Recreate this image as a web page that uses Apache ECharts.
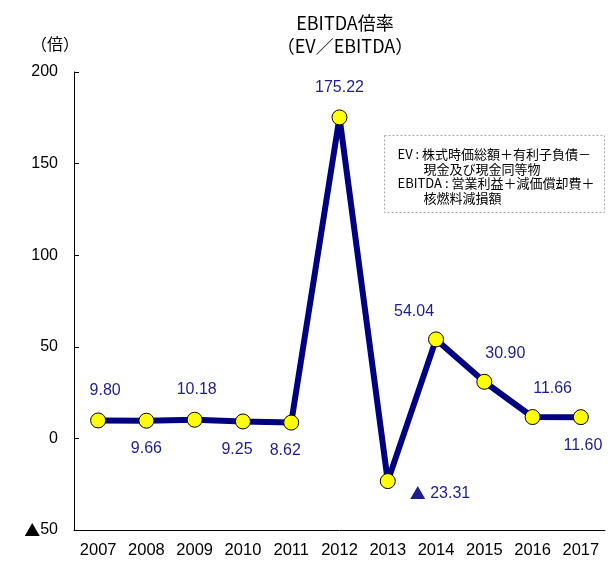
<!DOCTYPE html>
<html><head><meta charset="utf-8">
<script src="https://cdn.jsdelivr.net/npm/echarts@6/dist/echarts.min.js"></script>
<style>html,body{margin:0;padding:0;background:#fff}#c{width:608px;height:561px}</style>
</head><body><div id="c"></div>
<script>
const categories = ['2007','2008','2009','2010','2011','2012','2013','2014','2015','2016','2017'];
const values = [9.80, 9.66, 10.18, 9.25, 8.62, 175.22, -23.31, 54.04, 30.90, 11.66, 11.60];
const yTicks = [-50, 0, 50, 100, 150, 200];

const FONT = '"Noto Sans CJK JP", sans-serif';
const NUMFONT = '"Liberation Sans", Arial, sans-serif';
const labelPos = [
  {position:'top', offset:[7,-6]},
  {position:'bottom', offset:[0,4]},
  {position:'top', offset:[2,-6]},
  {position:'bottom', offset:[-6,4]},
  {position:'bottom', offset:[-6,4]},
  {position:'top', offset:[0,-6]},
  {position:'right', offset:[6,12]},
  {position:'top', offset:[-22,-4]},
  {position:'top', offset:[21,-4]},
  {position:'top', offset:[20,-4]},
  {position:'bottom', offset:[2,4]}
];
const chart = echarts.init(document.getElementById('c'));
chart.setOption({
  animation:false,
  backgroundColor:'#fff',
  title:{text:'EBITDA倍率\n（EV／EBITDA）', left:340, textAlign:'center', top:7,
    textStyle:{fontFamily:FONT, fontSize:18, fontWeight:'normal', color:'#000', lineHeight:23}},
  grid:{left:74, top:72, right:3, bottom:31},
  xAxis:{type:'category', data:categories, boundaryGap:true,
    axisLine:{onZero:false, lineStyle:{color:'#000', width:1}},
    axisTick:{inside:true, length:5, lineStyle:{color:'#000'}},
    axisLabel:{interval:0, fontFamily:NUMFONT, fontSize:16.5, color:'#000', margin:12}},
  yAxis:{type:'value', min:-50, max:200, interval:50,
    name:'（倍）', nameLocation:'end', nameGap:20,
    nameTextStyle:{fontFamily:FONT, fontSize:16, color:'#000', align:'center', padding:[0,0,0,-38]},
    axisLine:{show:true, lineStyle:{color:'#000', width:1}},
    axisTick:{show:true, inside:true, length:5, lineStyle:{color:'#000'}},
    splitLine:{show:false},
    axisLabel:{fontFamily:NUMFONT, fontSize:16, color:'#000', margin:16,
      rich:{t:{fontFamily:FONT, fontSize:16, color:'#000'}},
      formatter:function(v){ return yTicks.indexOf(v) < 0 ? '' : (v < 0 ? '{t|▲}' + Math.abs(v) : String(v)); }}},
  series:[{
    type:'line', data:values.map(function(v,i){ return {value:v, label:labelPos[i]}; }),
    symbol:'circle', symbolSize:15,
    lineStyle:{color:'#000080', width:6},
    itemStyle:{color:'#ffff00', borderColor:'#000', borderWidth:1},
    label:{show:true, fontFamily:NUMFONT, fontSize:16, color:'#1e1e8c', distance:8,
      rich:{t:{fontFamily:FONT, fontSize:16, color:'#1e1e8c'}},
      formatter:function(p){ const v=p.value; return v<0 ? '{t|▲} ' + Math.abs(v).toFixed(2) : v.toFixed(2); }},
    z:3
  }],
  graphic:[{
    type:'group', left:384, top:135,
    children:[
      {type:'rect', shape:{x:0,y:0,width:220,height:77}, style:{fill:'#fff', stroke:'#aaa', lineWidth:1, lineDash:[2,2]}},
      {type:'text', left:13, top:12, style:{text:'EV : 株式時価総額＋有利子負債－', font:'13px '+FONT, fill:'#000'}},
      {type:'text', left:39, top:27, style:{text:'現金及び現金同等物', font:'13px '+FONT, fill:'#000'}},
      {type:'text', left:13, top:41, style:{text:'EBITDA : 営業利益＋減価償却費＋', font:'13px '+FONT, fill:'#000'}},
      {type:'text', left:39, top:56, style:{text:'核燃料減損額', font:'13px '+FONT, fill:'#000'}}
    ]
  }]
});
</script></body></html>
